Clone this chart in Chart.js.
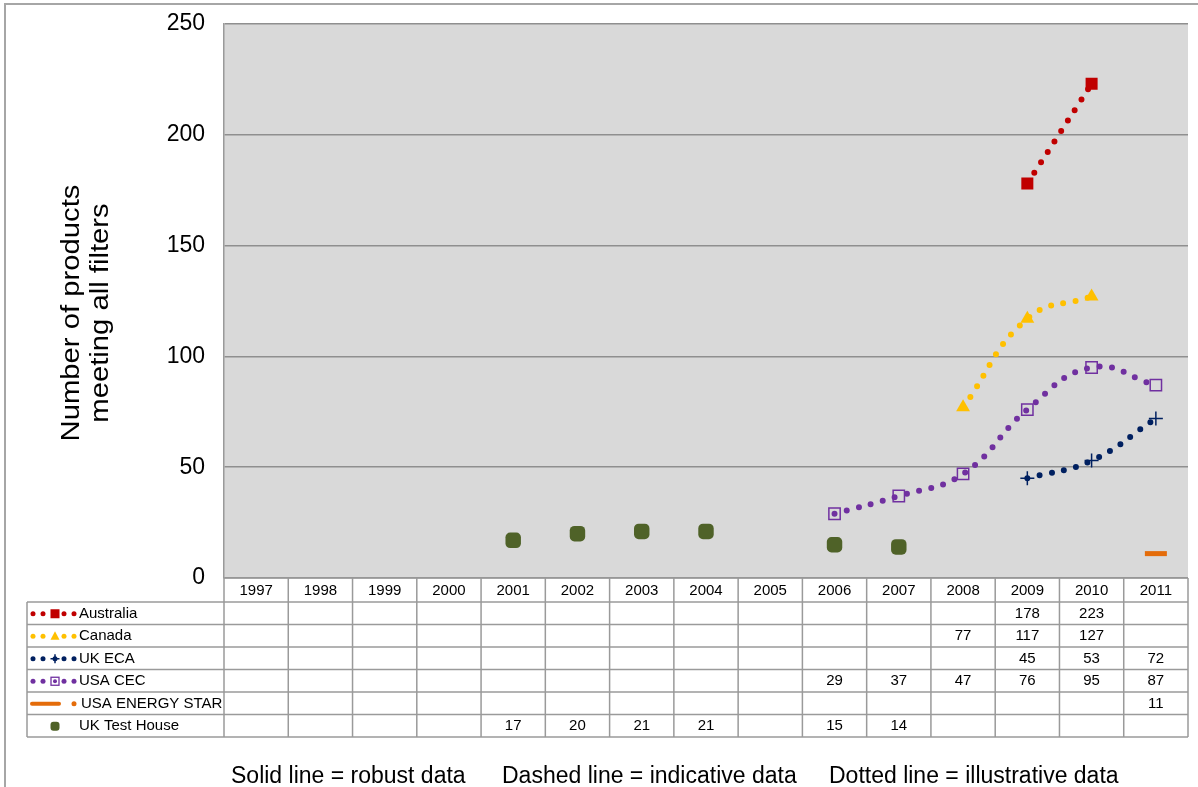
<!DOCTYPE html>
<html>
<head>
<meta charset="utf-8">
<script src="https://cdn.jsdelivr.net/npm/chart.js@4/dist/chart.umd.min.js"></script>
<style>
  html, body { margin: 0; padding: 0; background: #ffffff; }
  #wrap { width: 1198px; height: 787px; position: relative; overflow: hidden; }
  #chart { display: block; }
</style>
</head>
<body>
<div id="wrap"><canvas id="chart" width="1204" height="787"></canvas></div>
<script>
// Years shown along the category axis and as the table header
const years = ['1997', '1998', '1999', '2000', '2001', '2002', '2003', '2004',
               '2005', '2006', '2007', '2008', '2009', '2010', '2011'];

// Number of products meeting all filters, one value per year (null = no data)
const australia   = [null, null, null, null, null, null, null, null, null, null, null, null, 178, 223, null];
const canada      = [null, null, null, null, null, null, null, null, null, null, null, 77, 117, 127, null];
const ukEca       = [null, null, null, null, null, null, null, null, null, null, null, null, 45, 53, 72];
const usaCec      = [null, null, null, null, null, null, null, null, null, 29, 37, 47, 76, 95, 87];
const energyStar  = [null, null, null, null, null, null, null, null, null, null, null, null, null, null, 11];
const ukTestHouse = [null, null, null, null, 17, 20, 21, 21, null, 15, 14, null, null, null, null];

// Value axis ticks
const yTicks = [0, 50, 100, 150, 200, 250];

const titleLines = ['Number of products', 'meeting all filters'];
const footnotes = [
  { text: 'Solid line = robust data', x: 231 },
  { text: 'Dashed line = indicative data', x: 502 },
  { text: 'Dotted line = illustrative data', x: 829 }
];

const FONT = '"Liberation Sans", Arial, Helvetica, sans-serif';
const GRID = '#8f8f8f';
const TABLE_LINE = '#9a9a9a';

const COLORS = {
  australia: '#c00000',
  canada: '#ffc000',
  ukEca: '#002060',
  usaCec: '#7030a0',
  energyStar: '#e46c0a',
  testHouse: '#4f6228'
};

function dotted(color) {
  return {
    borderColor: color,
    borderWidth: 6,
    borderDash: [0, 12.5],
    borderCapStyle: 'round',
    tension: 0.45,
    spanGaps: false,
    fill: false
  };
}

const datasets = [
  Object.assign({
    label: 'Australia', data: australia, key: 'square',
    pointStyle: 'rect', pointRadius: 8.5, pointBackgroundColor: COLORS.australia,
    pointBorderColor: COLORS.australia, pointBorderWidth: 0
  }, dotted(COLORS.australia)),
  Object.assign({
    label: 'Canada', data: canada, key: 'triangle',
    pointStyle: 'triangle', pointRadius: 8, pointBackgroundColor: COLORS.canada,
    pointBorderColor: COLORS.canada, pointBorderWidth: 0
  }, dotted(COLORS.canada)),
  Object.assign({
    label: 'UK ECA', data: ukEca, key: 'cross',
    pointStyle: 'cross', pointRadius: 7, pointBackgroundColor: COLORS.ukEca,
    pointBorderColor: COLORS.ukEca, pointBorderWidth: 1.5
  }, dotted(COLORS.ukEca)),
  Object.assign({
    label: 'USA CEC', data: usaCec, key: 'openSquare',
    pointStyle: 'rect', pointRadius: 8, pointBackgroundColor: 'rgba(0,0,0,0)',
    pointBorderColor: COLORS.usaCec, pointBorderWidth: 1.5
  }, dotted(COLORS.usaCec)),
  {
    label: 'USA ENERGY STAR', data: energyStar, key: 'bar',
    borderColor: COLORS.energyStar, backgroundColor: COLORS.energyStar,
    showLine: false, pointStyle: 'line', pointRadius: 11,
    pointBorderColor: COLORS.energyStar, pointBorderWidth: 5
  },
  {
    label: 'UK Test House', data: ukTestHouse, key: 'rounded',
    borderColor: COLORS.testHouse, backgroundColor: COLORS.testHouse,
    showLine: false, pointStyle: 'rectRounded', pointRadius: 9,
    pointBackgroundColor: COLORS.testHouse, pointBorderColor: COLORS.testHouse, pointBorderWidth: 0
  }
];

// Page frame and grey plotting area
const backdrop = {
  id: 'backdrop',
  beforeDraw(chart) {
    const { ctx, chartArea: a } = chart;
    ctx.save();
    ctx.fillStyle = '#ffffff';
    ctx.fillRect(0, 0, chart.width, chart.height);
    ctx.strokeStyle = '#a6a6a6';
    ctx.lineWidth = 2;
    ctx.beginPath();
    ctx.moveTo(5, chart.height);
    ctx.lineTo(5, 4);
    ctx.lineTo(chart.width, 4);
    ctx.stroke();
    ctx.fillStyle = '#d9d9d9';
    ctx.fillRect(a.left, a.top, a.right - a.left, a.bottom - a.top);
    ctx.restore();
  }
};

// Small legend key drawn at the start of each table row
function drawKey(ctx, ds, cy) {
  const c = ds.borderColor;
  ctx.save();
  ctx.fillStyle = c;
  ctx.strokeStyle = c;
  const dot = (x) => { ctx.beginPath(); ctx.arc(x, cy, 2.5, 0, Math.PI * 2); ctx.fill(); };
  const cx = 55;
  if (ds.key === 'bar') {
    ctx.lineWidth = 4;
    ctx.lineCap = 'round';
    ctx.beginPath(); ctx.moveTo(32, cy); ctx.lineTo(59, cy); ctx.stroke();
    dot(74);
    ctx.restore();
    return;
  }
  if (ds.key === 'rounded') {
    ctx.beginPath();
    ctx.roundRect(cx - 4.5, cy - 4.5, 9, 9, 3);
    ctx.fill();
    ctx.restore();
    return;
  }
  [33, 43, 64, 74].forEach(dot);
  if (ds.key === 'square') {
    ctx.fillRect(cx - 4.5, cy - 4.5, 9, 9);
  } else if (ds.key === 'triangle') {
    ctx.beginPath();
    ctx.moveTo(cx, cy - 5); ctx.lineTo(cx + 4.5, cy + 3.5); ctx.lineTo(cx - 4.5, cy + 3.5);
    ctx.closePath(); ctx.fill();
  } else if (ds.key === 'cross') {
    ctx.lineWidth = 1.5;
    ctx.beginPath();
    ctx.moveTo(cx - 4.5, cy); ctx.lineTo(cx + 4.5, cy);
    ctx.moveTo(cx, cy - 4.5); ctx.lineTo(cx, cy + 4.5);
    ctx.stroke();
    dot(cx);
  } else if (ds.key === 'openSquare') {
    ctx.lineWidth = 1.3;
    ctx.strokeRect(cx - 4, cy - 4, 8, 8);
    ctx.beginPath(); ctx.arc(cx, cy, 2, 0, Math.PI * 2); ctx.fill();
  }
  ctx.restore();
}

// Data table under the plot: year header row, then one row per series
const dataTable = {
  id: 'dataTable',
  afterDraw(chart) {
    const { ctx, chartArea: a } = chart;
    const xs = chart.scales.x;
    const n = years.length;
    const colW = (a.right - a.left) / n;
    const headerBottom = a.bottom + 24;
    const rowH = 22.5;
    const left = 27;
    const sets = chart.data.datasets;
    const bottom = headerBottom + sets.length * rowH;

    ctx.save();
    ctx.strokeStyle = TABLE_LINE;
    ctx.lineWidth = 1.5;
    ctx.beginPath();
    ctx.moveTo(a.left, a.bottom); ctx.lineTo(a.right, a.bottom);
    for (let i = 0; i <= sets.length; i++) {
      const y = headerBottom + i * rowH;
      ctx.moveTo(left, y); ctx.lineTo(a.right, y);
    }
    ctx.moveTo(left, headerBottom); ctx.lineTo(left, bottom);
    for (let j = 0; j <= n; j++) {
      const x = a.left + j * colW;
      ctx.moveTo(x, a.bottom); ctx.lineTo(x, bottom);
    }
    ctx.stroke();

    ctx.fillStyle = '#000000';
    ctx.font = '15px ' + FONT;
    ctx.textBaseline = 'middle';
    ctx.textAlign = 'center';
    years.forEach((y, j) => {
      ctx.fillText(xs.getLabelForValue(j), xs.getPixelForValue(j), a.bottom + 12.5);
    });

    sets.forEach((ds, i) => {
      const cy = headerBottom + (i + 0.5) * rowH + 0.5;
      ctx.textAlign = 'left';
      ctx.fillText(ds.label, ds.key === 'bar' ? 81 : 79, cy);
      drawKey(ctx, ds, cy);
      ctx.fillStyle = '#000000';
      ctx.font = '15px ' + FONT;
      ctx.textAlign = 'center';
      ds.data.forEach((v, j) => {
        if (v !== null && v !== undefined) {
          ctx.fillText(String(v), xs.getPixelForValue(j), cy);
        }
      });
    });

    // Axis title, set vertically
    ctx.font = '25px ' + FONT;
    ctx.textAlign = 'center';
    ctx.textBaseline = 'alphabetic';
    const baselines = [79, 108];
    titleLines.forEach((t, i) => {
      ctx.save();
      ctx.translate(baselines[i], 313);
      ctx.rotate(-Math.PI / 2);
      ctx.scale(1.17, 1);
      ctx.fillText(t, 0, 0);
      ctx.restore();
    });

    // Footnote on line styles
    ctx.font = '23px ' + FONT;
    ctx.textAlign = 'left';
    ctx.textBaseline = 'alphabetic';
    footnotes.forEach(f => ctx.fillText(f.text, f.x, 783));
    ctx.restore();
  }
};

new Chart(document.getElementById('chart'), {
  type: 'line',
  data: { labels: years, datasets },
  options: {
    responsive: false,
    animation: false,
    devicePixelRatio: 1,
    layout: { padding: { left: 0, right: 16, top: 24, bottom: 0 } },
    plugins: {
      legend: { display: false },
      tooltip: { enabled: false }
    },
    scales: {
      x: {
        type: 'category',
        offset: true,
        grid: { display: false, drawTicks: false },
        border: { display: false },
        ticks: { display: false },
        afterFit(scale) {
          scale.height = 787 - 578;
          scale.paddingLeft = 0;
          scale.paddingRight = 0;
        }
      },
      y: {
        min: 0,
        max: 250,
        afterBuildTicks(scale) { scale.ticks = yTicks.map(v => ({ value: v })); },
        grid: { color: GRID, lineWidth: 1.5, drawTicks: false },
        border: { display: true, color: TABLE_LINE, width: 1.5 },
        ticks: {
          padding: 19,
          color: '#000000',
          font: { family: FONT, size: 23 }
        },
        afterFit(scale) {
          scale.width = 224;
          scale.paddingTop = 0;
          scale.paddingBottom = 0;
        }
      }
    }
  },
  plugins: [backdrop, dataTable]
});
</script>
</body>
</html>
